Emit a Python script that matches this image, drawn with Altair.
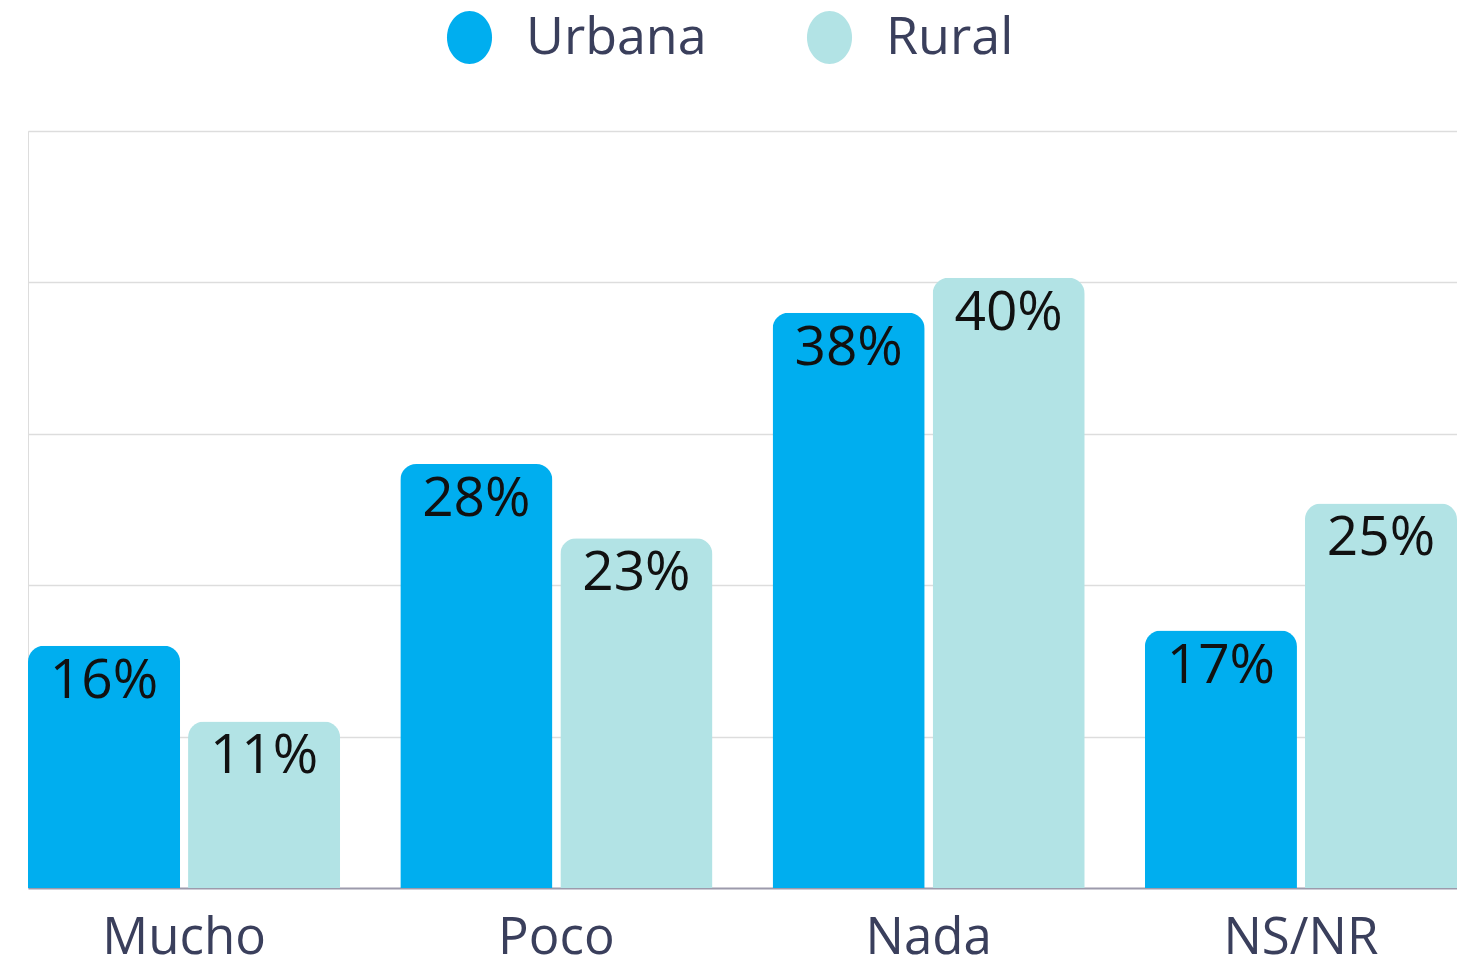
import altair as alt
import pandas as pd

categories = ["Mucho", "Poco", "Nada", "NS/NR"]
series = ["Urbana", "Rural"]
urbana = [16.0, 28.0, 38.0, 17.0]
rural = [11.0, 23.1, 40.3, 25.4]
colors = ["#00AEEF", "#B2E3E5"]

rows = []
for c, u, r in zip(categories, urbana, rural):
    rows.append({"cat": c, "serie": "Urbana", "value": u})
    rows.append({"cat": c, "serie": "Rural", "value": r})
df = pd.DataFrame(rows)

FONT = "Open Sans"
TXT = "#3a3f5c"

ellipse = "M-0.85,0 A0.85,1 0 1,1 0.85,0 A0.85,1 0 1,1 -0.85,0 Z"

base = alt.Chart(df).encode(
    x=alt.X("cat:N", sort=categories, title=None,
            scale=alt.Scale(paddingInner=0.1616, paddingOuter=0),
            axis=alt.Axis(labelAngle=0, labelFontSize=51, labelFont=FONT,
                          labelColor=TXT, labelPadding=25, ticks=False,
                          domainColor="#9c9aab", domainWidth=2, grid=False)),
    xOffset=alt.XOffset("serie:N", sort=series,
                        scale=alt.Scale(paddingInner=0.0497, paddingOuter=0)),
)

bars = base.mark_bar(cornerRadiusTopLeft=16, cornerRadiusTopRight=16).encode(
    y=alt.Y("value:Q", title=None,
            scale=alt.Scale(domain=[0, 50], nice=False),
            axis=alt.Axis(values=[10, 20, 30, 40, 50], labels=False, ticks=False,
                          domain=False, gridColor="#dddddd", gridWidth=1.5)),
    color=alt.Color("serie:N", sort=series,
                    scale=alt.Scale(domain=series, range=colors),
                    legend=alt.Legend(title=None, orient="none", direction="horizontal",
                                      legendX=415, legendY=-120,
                                      symbolType=ellipse, symbolSize=2809,
                                      symbolStrokeWidth=0, symbolOpacity=1,
                                      labelFontSize=52, labelFont=FONT,
                                      labelColor=TXT, labelOffset=30,
                                      labelLimit=400,
                                      columnPadding=96, padding=0)),
)

labels = base.mark_text(baseline="top", align="center", fontSize=55, font=FONT,
                        color="#111111", dy=9).encode(
    y=alt.Y("value:Q"),
    text=alt.Text("label:N"),
).transform_calculate(label="format(datum.value, '.0f') + '%'")

chart = (bars + labels).properties(
    width=1429, height=757,
    autosize=alt.AutoSizeParams(type="none"),
    padding={"left": 20, "top": 123, "right": 0, "bottom": 84},
).configure_view(stroke=None).configure(background="white")

chart.save("out.html", embed_options={"renderer": "svg", "actions": False})
